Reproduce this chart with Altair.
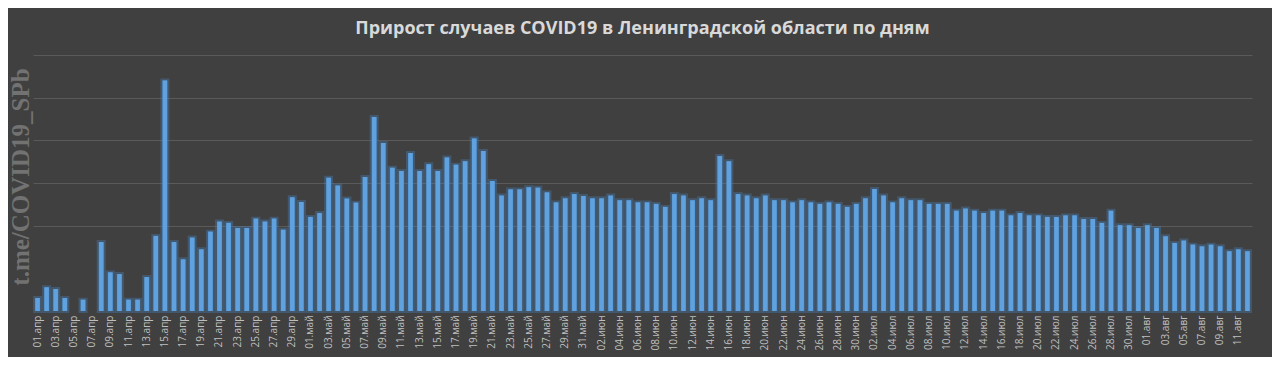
import altair as alt
import pandas as pd

title_text = "Прирост случаев COVID19 в Ленинградской области по дням"
watermark = "t.me/COVID19_SPb"

months = ["апр", "май", "июн", "июл", "авг"]
month_days = [30, 31, 30, 31, 12]

values = [
    6.1, 11.1, 10.3, 6.1, 0, 5.3, 0, 32.3, 18.1, 17.3,
    5.3, 5.3, 15.9, 35.2, 108.1, 32.3, 24.2, 34.4, 28.9, 37.2,
    41.9, 41.3, 38.9, 38.9, 43.3, 41.9, 43.3, 38.1, 53.3, 51.1,
    44.1, 45.9, 62.5, 58.8, 52.7, 50.8, 62.8, 90.9, 78.8, 67.2,
    65.6, 74.1, 65.6, 68.8, 65.6, 71.9, 68.6, 70.2, 80.9, 75.0,
    60.9, 54.1, 57.0, 57.0, 58.0, 57.8, 55.6, 50.9, 52.8, 54.8,
    53.9, 52.8, 52.8, 54.1, 51.9, 51.9, 50.9, 50.9, 50.2, 48.8,
    54.8, 54.1, 51.9, 52.8, 51.9, 72.7, 70.2, 54.8, 54.1, 52.8,
    54.1, 51.9, 51.9, 50.9, 51.9, 50.9, 50.2, 50.9, 50.2, 48.8,
    50.2, 52.8, 57.2, 54.1, 50.9, 52.8, 51.9, 51.9, 50.2, 50.2,
    50.2, 47.0, 48.0, 47.0, 45.9, 47.0, 47.0, 44.8, 45.9, 44.8,
    44.8, 44.1, 44.1, 44.8, 44.8, 43.1, 43.1, 41.3, 47.0, 40.2,
    40.2, 38.9, 40.2, 38.9, 35.0, 31.9, 33.0, 31.1, 30.3, 31.1,
    30.3, 28.0, 28.9, 28.0,
]

dates = [f"{d:02d}.{m}" for m, n in zip(months, month_days) for d in range(1, n + 1)]
df = pd.DataFrame({"date": dates, "value": values})

grid_values = [40, 60, 80, 100, 120]

W, H = 1219, 256

x_enc = alt.X(
    "date:N",
    sort=dates,
    scale=alt.Scale(domain=dates, paddingInner=0.5, paddingOuter=0.25),
    axis=alt.Axis(
        title=None,
        values=dates[::2],
        labelAngle=-90,
        labelFontSize=10,
        labelFont="Open Sans",
        labelColor="#bfbfbf",
        labelPadding=4,
        ticks=False,
        domain=False,
        grid=False,
    ),
)
y_enc = alt.Y(
    "value:Q",
    scale=alt.Scale(domain=[0, 120], nice=False),
    axis=alt.Axis(
        title=None,
        values=grid_values,
        labels=False,
        ticks=False,
        domain=False,
        grid=True,
        gridColor="#5a5a5a",
        gridWidth=1,
    ),
)

base = alt.Chart(df).transform_filter("datum.value > 0")

glow = base.mark_bar(
    size=5,
    color="#4a86bf",
    stroke="#4a86bf",
    strokeWidth=4,
    strokeOpacity=0.35,
).encode(x=x_enc, y=y_enc)

bars = base.mark_bar(size=4.4, color="#5fa2df").encode(x=x_enc, y=y_enc)

wm = alt.Chart(pd.DataFrame({"t": [watermark]})).mark_text(
    angle=270,
    font="Liberation Serif",
    fontWeight="bold",
    fontSize=25,
    color="#727272",
    align="center",
    baseline="middle",
).encode(text="t:N", x=alt.value(-12), y=alt.value(122))

chart = (
    alt.layer(glow, bars, wm)
    .properties(
        width=W,
        height=H,
        padding={"left": 25, "right": 20, "top": 47, "bottom": 46},
        autosize=alt.AutoSizeParams(type="none"),
        background="#404040",
        title=alt.TitleParams(
            title_text,
            font="Open Sans",
            fontSize=18,
            fontWeight="bold",
            color="#d9d9d9",
            anchor="middle",
            offset=17,
        ),
    )
    .configure_view(stroke=None)
)

chart.save("out.html", embed_options={"renderer": "svg", "actions": False})
